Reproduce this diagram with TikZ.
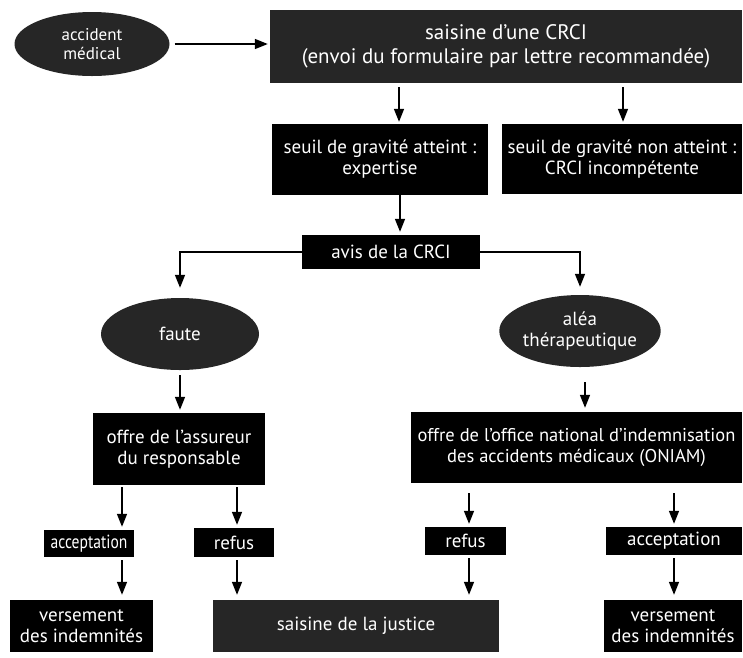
\documentclass[tikz,border=0pt]{standalone}
\usepackage{graphicx}
\usepackage{fontspec}
\setmainfont{PT Sans}
\usetikzlibrary{arrows.meta,shapes.geometric,calc}
\begin{document}
\begin{tikzpicture}[x=1pt,y=-1pt,
  box/.style={rectangle,fill=black,text=white,inner sep=0pt,align=center,font=\fontsize{19}{21}\selectfont},
  gbox/.style={box,fill=black!85},
  oval/.style={ellipse,fill=black!85,text=white,inner sep=0pt,align=center,font=\fontsize{19}{21}\selectfont},
  arr/.style={line width=1.5pt,-{Triangle[length=13pt,width=10pt]}}]
\useasboundingbox (0,0) rectangle (743,657);

\node[oval,minimum width=155pt,minimum height=64pt,font=\fontsize{17}{19}\selectfont] (acc) at (92,44) {accident\\médical};
\node[gbox,minimum width=472pt,minimum height=73pt,font=\fontsize{21}{24}\selectfont] (crci) at (506,46.5) {saisine d’une CRCI\\(envoi du formulaire par lettre recommandée)};
\node[box,minimum width=216pt,minimum height=71pt] (s1) at (380,159.5) {seuil de gravité atteint :\\expertise};
\node[box,minimum width=240pt,minimum height=70pt] (s2) at (622,159) {seuil de gravité non atteint :\\CRCI incompétente};
\node[box,minimum width=178pt,minimum height=34pt] (avis) at (391,252) {avis de la CRCI};
\node[oval,minimum width=158pt,minimum height=72pt] (faute) at (180,334) {faute};
\node[oval,minimum width=146pt,minimum height=72pt] (alea) at (580,331) {aléa\\thérapeutique};
\node[box,minimum width=172pt,minimum height=72pt] (off1) at (179,449) {offre de l’assureur\\du responsable};
\node[box,minimum width=331pt,minimum height=71pt,font=\fontsize{18.5}{21}\selectfont] (oni) at (576.5,447.5) {offre de l’office national d’indemnisation\\des accidents médicaux (ONIAM)};
\node[box,minimum width=90pt,minimum height=27pt] (acc1) at (89,543.5) {\scalebox{0.82}[1]{acceptation}};
\node[box,minimum width=80pt,minimum height=29pt] (ref1) at (234,542.5) {refus};
\node[box,minimum width=81pt,minimum height=28pt] (ref2) at (465.5,541) {refus};
\node[box,minimum width=136pt,minimum height=28pt] (acc2) at (674,541) {acceptation};
\node[box,minimum width=143pt,minimum height=52pt] (ver1) at (81.5,626) {versement\\des indemnités};
\node[gbox,minimum width=286pt,minimum height=52pt] (jus) at (356,626) {saisine de la justice};
\node[box,minimum width=138pt,minimum height=52pt] (ver2) at (673,626) {versement\\des indemnités};

\coordinate (x1) at (399,0);
\coordinate (x2) at (623,0);
\coordinate (x3) at (400,0);
\coordinate (x4) at (585,0);
\coordinate (x5) at (122,0);
\coordinate (x6) at (237,0);
\coordinate (x7) at (469,0);
\coordinate (x8) at (674,0);

\draw[arr,shorten <=5pt,shorten >=2pt] (acc.east) -- (crci.west |- acc.east);
\draw[arr,shorten <=4pt,shorten >=2pt] (crci.south -| x1) -- (s1.north -| x1);
\draw[arr,shorten <=4pt,shorten >=2pt] (crci.south -| x2) -- (s2.north -| x2);
\draw[arr,shorten >=3pt] (s1.south -| x3) -- (avis.north -| x3);
\draw[arr,shorten >=10pt] (avis.west) -| (faute.north);
\draw[arr,shorten >=8pt] (avis.east) -| (alea.north);
\draw[arr,shorten <=5pt,shorten >=3pt] (faute.south) -- (off1.north -| faute.south);
\draw[arr,shorten <=15pt,shorten >=4pt] (alea.south -| x4) -- (oni.north -| x4);
\draw[arr,shorten <=2pt,shorten >=3pt] (off1.south -| x5) -- (acc1.north -| x5);
\draw[arr,shorten <=2pt,shorten >=3pt] (off1.south -| x6) -- (ref1.north -| x6);
\draw[arr,shorten <=3pt,shorten >=5pt] (acc1.south -| x5) -- (ver1.north -| x5);
\draw[arr,shorten <=3pt,shorten >=5pt] (ref1.south -| x6) -- (jus.north -| x6);
\draw[arr,shorten <=10pt,shorten >=3pt] (oni.south -| x7) -- (ref2.north -| x7);
\draw[arr,shorten <=10pt,shorten >=3pt] (oni.south -| x8) -- (acc2.north -| x8);
\draw[arr,shorten <=3pt,shorten >=5pt] (ref2.south -| x7) -- (jus.north -| x7);
\draw[arr,shorten <=3pt,shorten >=5pt] (acc2.south -| x8) -- (ver2.north -| x8);
\end{tikzpicture}
\end{document}
